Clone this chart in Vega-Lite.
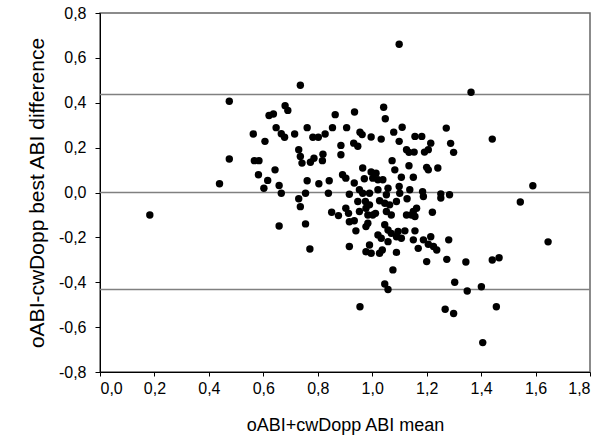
{
  "$schema": "https://vega.github.io/schema/vega-lite/v6.json",
  "width": 490,
  "height": 359,
  "autosize": {"type": "none"},
  "padding": {"left": 100, "top": 13, "right": 23, "bottom": 74},
  "background": "white",
  "config": {
    "locale": {"number": {"decimal": ",", "thousands": ".", "grouping": [3], "currency": ["", ""], "minus": "-"}},
    "view": {"stroke": "#666666", "strokeWidth": 1.5},
    "axis": {
      "domainColor": "#000000", "tickColor": "#000000", "grid": false,
      "labelFont": "Liberation Sans", "labelFontSize": 16, "labelColor": "#000000",
      "titleFont": "Liberation Sans", "titleFontWeight": "normal", "titleColor": "#000000"
    }
  },
  "datasets": {
    "pts": [
      {"m":0.183,"d":-0.100},{"m":0.439,"d":0.039},{"m":0.475,"d":0.407},{"m":0.475,"d":0.149},
      {"m":0.736,"d":0.478},{"m":0.680,"d":0.387},{"m":0.690,"d":0.366},{"m":0.621,"d":0.343},
      {"m":0.637,"d":0.350},{"m":0.864,"d":0.347},{"m":0.935,"d":0.359},{"m":0.647,"d":0.289},
      {"m":0.666,"d":0.262},{"m":0.678,"d":0.246},{"m":0.563,"d":0.261},{"m":0.715,"d":0.261},
      {"m":0.761,"d":0.289},{"m":0.782,"d":0.246},{"m":0.802,"d":0.246},{"m":0.827,"d":0.261},
      {"m":0.854,"d":0.289},{"m":0.906,"d":0.289},{"m":0.606,"d":0.228},{"m":0.885,"d":0.210},
      {"m":0.885,"d":0.168},{"m":0.932,"d":0.220},{"m":0.730,"d":0.191},{"m":0.736,"d":0.161},
      {"m":0.742,"d":0.131},{"m":0.773,"d":0.135},{"m":0.786,"d":0.153},{"m":0.819,"d":0.171},
      {"m":0.817,"d":0.142},{"m":0.567,"d":0.142},{"m":0.584,"d":0.142},{"m":0.643,"d":0.101},
      {"m":0.582,"d":0.079},{"m":0.616,"d":0.054},{"m":0.602,"d":0.019},{"m":0.658,"d":0.031},
      {"m":0.666,"d":-0.003},{"m":0.761,"d":0.052},{"m":0.755,"d":-0.003},{"m":0.730,"d":-0.028},
      {"m":0.736,"d":-0.063},{"m":0.804,"d":0.039},{"m":0.842,"d":0.052},{"m":0.839,"d":-0.003},
      {"m":0.891,"d":0.079},{"m":0.903,"d":0.064},{"m":0.916,"d":-0.008},{"m":0.851,"d":-0.088},
      {"m":0.876,"d":-0.103},{"m":0.903,"d":-0.070},{"m":0.913,"d":-0.093},{"m":0.916,"d":-0.130},
      {"m":0.658,"d":-0.149},{"m":0.755,"d":-0.140},{"m":0.771,"d":-0.252},{"m":0.916,"d":-0.241},
      {"m":1.046,"d":-0.408},{"m":1.058,"d":-0.432},{"m":0.955,"d":-0.509},{"m":1.268,"d":-0.520},
      {"m":1.299,"d":-0.539},{"m":1.303,"d":-0.400},{"m":1.363,"d":0.447},{"m":1.441,"d":0.238},
      {"m":1.288,"d":0.219},{"m":1.299,"d":0.179},{"m":1.590,"d":0.030},{"m":1.544,"d":-0.042},
      {"m":1.646,"d":-0.220},{"m":1.344,"d":-0.310},{"m":1.441,"d":-0.301},{"m":1.466,"d":-0.291},
      {"m":1.349,"d":-0.439},{"m":1.401,"d":-0.420},{"m":1.456,"d":-0.509},{"m":1.406,"d":-0.669},
      {"m":1.099,"d":0.661},{"m":1.042,"d":0.380},{"m":1.048,"d":0.329},{"m":1.272,"d":0.287},
      {"m":0.955,"d":0.269},{"m":0.963,"d":0.258},{"m":0.996,"d":0.247},{"m":1.033,"d":0.238},
      {"m":1.079,"d":0.269},{"m":1.110,"d":0.291},{"m":1.099,"d":0.228},{"m":1.157,"d":0.250},
      {"m":1.182,"d":0.250},{"m":1.215,"d":0.220},{"m":0.947,"d":0.206},{"m":1.126,"d":0.191},
      {"m":1.135,"d":0.179},{"m":1.154,"d":0.180},{"m":1.192,"d":0.180},{"m":1.206,"d":0.191},
      {"m":1.073,"d":0.142},{"m":0.965,"d":0.109},{"m":1.083,"d":0.101},{"m":1.135,"d":0.119},
      {"m":1.200,"d":0.112},{"m":1.206,"d":0.101},{"m":1.241,"d":0.109},{"m":1.107,"d":0.068},
      {"m":1.151,"d":0.068},{"m":0.996,"d":0.091},{"m":1.014,"d":0.086},{"m":1.002,"d":0.064},
      {"m":1.021,"d":0.057},{"m":0.971,"d":0.061},{"m":0.934,"d":0.042},{"m":1.039,"d":0.057},
      {"m":1.058,"d":0.019},{"m":1.052,"d":-0.010},{"m":0.953,"d":0.012},{"m":0.965,"d":-0.003},
      {"m":1.099,"d":0.027},{"m":1.101,"d":-0.003},{"m":1.138,"d":0.012},{"m":1.185,"d":0.004},
      {"m":1.188,"d":-0.018},{"m":1.252,"d":-0.006},{"m":1.252,"d":-0.025},{"m":1.284,"d":-0.010},
      {"m":1.128,"d":-0.028},{"m":1.089,"d":-0.040},{"m":1.163,"d":-0.070},{"m":0.990,"d":-0.003},
      {"m":1.021,"d":0.012},{"m":0.947,"d":-0.040},{"m":0.975,"d":-0.040},{"m":0.990,"d":-0.055},
      {"m":1.027,"d":-0.037},{"m":1.046,"d":-0.048},{"m":1.064,"d":-0.055},{"m":0.977,"d":-0.070},
      {"m":0.953,"d":-0.085},{"m":0.984,"d":-0.100},{"m":1.002,"d":-0.100},{"m":1.012,"d":-0.093},
      {"m":1.052,"d":-0.085},{"m":1.070,"d":-0.100},{"m":1.126,"d":-0.100},{"m":1.144,"d":-0.100},
      {"m":1.151,"d":-0.085},{"m":1.157,"d":-0.107},{"m":1.221,"d":-0.088},{"m":0.934,"d":-0.126},
      {"m":0.984,"d":-0.137},{"m":0.977,"d":-0.152},{"m":1.046,"d":-0.144},{"m":1.058,"d":-0.167},
      {"m":1.070,"d":-0.182},{"m":1.095,"d":-0.174},{"m":1.120,"d":-0.171},{"m":1.089,"d":-0.197},
      {"m":1.157,"d":-0.171},{"m":0.940,"d":-0.171},{"m":1.021,"d":-0.189},{"m":1.033,"d":-0.204},
      {"m":1.058,"d":-0.219},{"m":1.107,"d":-0.204},{"m":1.151,"d":-0.211},{"m":1.188,"d":-0.211},
      {"m":1.215,"d":-0.197},{"m":1.206,"d":-0.231},{"m":1.225,"d":-0.241},{"m":1.237,"d":-0.256},
      {"m":1.281,"d":-0.211},{"m":1.169,"d":-0.249},{"m":0.990,"d":-0.234},{"m":0.977,"d":-0.264},
      {"m":0.996,"d":-0.271},{"m":1.037,"d":-0.256},{"m":1.027,"d":-0.271},{"m":1.089,"d":-0.267},
      {"m":1.274,"d":-0.298},{"m":1.200,"d":-0.308},{"m":1.076,"d":-0.345}
    ],
    "lines": [{"v": 0.437}, {"v": 0.0}, {"v": -0.432}]
  },
  "layer": [
    {
      "data": {"name": "lines"},
      "mark": {"type": "rule", "color": "#808080", "strokeWidth": 1.5},
      "encoding": {
        "y": {"field": "v", "type": "quantitative", "scale": {"domain": [-0.8, 0.8], "nice": false}}
      }
    },
    {
      "data": {"name": "pts"},
      "mark": {"type": "circle", "color": "#000000", "opacity": 1, "size": 55},
      "encoding": {
        "x": {"field": "m", "type": "quantitative", "title": "oABI+cwDopp ABI mean",
          "scale": {"domain": [0, 1.8], "nice": false},
          "axis": {"values": [0,0.2,0.4,0.6,0.8,1.0,1.2,1.4,1.6,1.8], "format": ".1f", "tickSize": 4, "labelPadding": 4, "titleFontSize": 18, "titlePadding": 20}},
        "y": {"field": "d", "type": "quantitative", "title": "oABI-cwDopp best ABI difference",
          "scale": {"domain": [-0.8, 0.8], "nice": false},
          "axis": {"values": [-0.8,-0.6,-0.4,-0.2,0,0.2,0.4,0.6,0.8], "format": ".1f", "tickSize": 5, "labelPadding": 9, "titleFontSize": 21, "titlePadding": 11}}
      }
    }
  ]
}
